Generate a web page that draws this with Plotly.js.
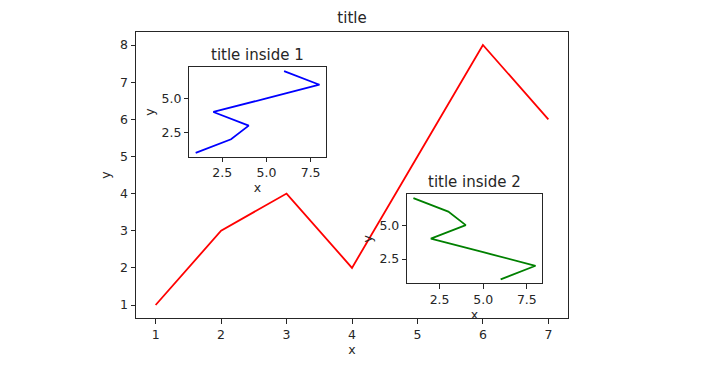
<!DOCTYPE html>
<html>
<head>
<meta charset="utf-8">
<script src="https://cdn.plot.ly/plotly-3.0.1.min.js"></script>
<style>html,body{margin:0;padding:0;background:#fff;}</style>
</head>
<body>
<div id="chart" style="width:726px;height:374px;"></div>
<script>
// Main series
var mainX = [1, 2, 3, 4, 5, 6, 7];
var mainY = [1, 3, 4, 2, 5, 8, 6];
// Inset 1 series
var inset1X = [1, 3, 4, 2, 5, 8, 6];
var inset1Y = [1, 2, 3, 4, 5, 6, 7];
// Inset 2 series
var inset2X = [6, 8, 5, 2, 4, 3, 1];
var inset2Y = [1, 2, 3, 4, 5, 6, 7];
// Tick labels
var mainXTicks = [1, 2, 3, 4, 5, 6, 7];
var mainYTicks = [1, 2, 3, 4, 5, 6, 7, 8];
var insetXTicks = [2.5, 5.0, 7.5];
var insetXTickText = ['2.5', '5.0', '7.5'];
var insetYTicks = [2.5, 5.0];
var insetYTickText = ['2.5', '5.0'];

var FAM = 'DejaVu Sans, sans-serif';
var font = {family: FAM, size: 12.5, color: '#262626'};
function ax(extra) {
  var base = {
    showline: true, mirror: true, linecolor: '#262626', linewidth: 1,
    ticks: 'outside', ticklen: 4.5, tickwidth: 1, tickcolor: '#262626',
    showgrid: false, zeroline: false, tickfont: font,
    tickmode: 'array'
  };
  for (var k in extra) base[k] = extra[k];
  return base;
}
var labelFont = {family: FAM, size: 12.5, color: '#262626'};
var titleFont = {family: FAM, size: 15, color: '#262626'};

var traces = [
  {x: mainX, y: mainY, type: 'scatter', mode: 'lines', line: {color: '#ff0000', width: 1.8}, xaxis: 'x', yaxis: 'y', hoverinfo: 'none'},
  {x: inset1X, y: inset1Y, type: 'scatter', mode: 'lines', line: {color: '#0000ff', width: 1.8}, xaxis: 'x2', yaxis: 'y2', hoverinfo: 'none'},
  {x: inset2X, y: inset2Y, type: 'scatter', mode: 'lines', line: {color: '#008000', width: 1.8}, xaxis: 'x3', yaxis: 'y3', hoverinfo: 'none'}
];

var layout = {
  width: 726, height: 374,
  margin: {l: 136, r: 158, t: 32, b: 56},
  paper_bgcolor: '#fff', plot_bgcolor: '#fff',
  showlegend: false,
  title: {text: 'title', font: titleFont, x: 0.5, xref: 'paper', xanchor: 'center', y: 1 - 18/374, yanchor: 'middle'},
  xaxis: ax({domain: [0, 1], range: [0.7, 7.3], tickvals: mainXTicks, anchor: 'y',
    title: {text: 'x', font: labelFont, standoff: 4}}),
  yaxis: ax({domain: [0, 1], range: [0.65, 8.35], tickvals: mainYTicks, anchor: 'x',
    title: {text: 'y', font: labelFont, standoff: 6}}),
  xaxis2: ax({domain: [0.1238, 0.439], range: [0.65, 8.35], tickvals: insetXTicks, ticktext: insetXTickText, anchor: 'y2',
    title: {text: 'x', font: labelFont, standoff: 2}}),
  yaxis2: ax({domain: [0.563, 0.8776], range: [0.7, 7.3], tickvals: insetYTicks, ticktext: insetYTickText, anchor: 'x2',
    title: {text: 'y', font: labelFont, standoff: 4}}),
  xaxis3: ax({domain: [0.628, 0.939], range: [0.65, 8.35], tickvals: insetXTicks, ticktext: insetXTickText, anchor: 'y3',
    title: {text: 'x', font: labelFont, standoff: 2}}),
  yaxis3: ax({domain: [0.121, 0.4336], range: [0.7, 7.3], tickvals: insetYTicks, ticktext: insetYTickText, anchor: 'x3',
    title: {text: 'y', font: labelFont, standoff: 4}}),
  annotations: [
    {text: 'title inside 1', xref: 'x2 domain', yref: 'y2 domain', x: 0.5, y: 1, xanchor: 'center', yanchor: 'bottom', yshift: 1, showarrow: false,
      font: titleFont},
    {text: 'title inside 2', xref: 'x3 domain', yref: 'y3 domain', x: 0.5, y: 1, xanchor: 'center', yanchor: 'bottom', yshift: 1, showarrow: false,
      font: titleFont}
  ]
};

Plotly.newPlot('chart', traces, layout, {staticPlot: true, displayModeBar: false});
</script>
</body>
</html>
